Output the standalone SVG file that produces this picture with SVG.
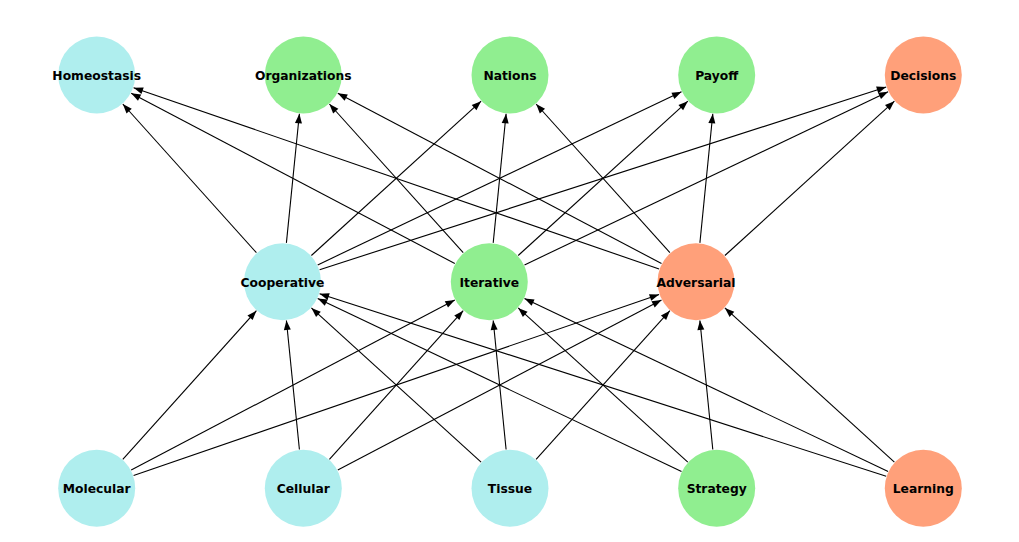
<svg xmlns="http://www.w3.org/2000/svg" width="1019" height="542" viewBox="0 0 1019 542">
<style>
.c{fill:#AFEEEE}.g{fill:#90EE90}.s{fill:#FFA07A}
text{font-family:"DejaVu Sans",sans-serif;font-weight:bold;font-size:12.3px;fill:#000;text-anchor:middle;dominant-baseline:central}
#edges line{stroke:#000;stroke-width:1.1;marker-end:url(#ah)}
</style>
<defs>
<marker id="ah" markerUnits="userSpaceOnUse" markerWidth="12" markerHeight="10" viewBox="-10 -5 11 10" refX="0" refY="0" orient="auto">
<path d="M0,0 L-9.5,-3.5 L-9.5,3.5 z" fill="#000"/>
</marker>
</defs>
<rect width="1019" height="542" fill="#fff"/>
<g id="edges">
<line x1="122.8" y1="459.3" x2="256.4" y2="310.7"/>
<line x1="131.2" y1="470.1" x2="454.8" y2="299.9"/>
<line x1="133.6" y1="475.6" x2="659.1" y2="294.4"/>
<line x1="299.4" y1="449.5" x2="286.4" y2="320.5"/>
<line x1="329.4" y1="459.3" x2="463.2" y2="310.7"/>
<line x1="337.8" y1="470.1" x2="661.5" y2="299.9"/>
<line x1="481.1" y1="462.1" x2="311.4" y2="307.9"/>
<line x1="506.1" y1="449.5" x2="493.2" y2="320.5"/>
<line x1="536.1" y1="459.3" x2="669.9" y2="310.7"/>
<line x1="681.5" y1="471.5" x2="317.7" y2="298.5"/>
<line x1="687.8" y1="462.1" x2="518.2" y2="307.9"/>
<line x1="712.8" y1="449.5" x2="699.9" y2="320.5"/>
<line x1="886.2" y1="476.3" x2="319.6" y2="293.7"/>
<line x1="888.1" y1="471.5" x2="524.5" y2="298.5"/>
<line x1="894.4" y1="462.1" x2="724.9" y2="307.9"/>
<line x1="256.4" y1="252.7" x2="122.8" y2="104.0"/>
<line x1="286.4" y1="242.9" x2="299.4" y2="113.8"/>
<line x1="311.4" y1="255.5" x2="481.1" y2="101.2"/>
<line x1="317.7" y1="264.9" x2="681.5" y2="91.8"/>
<line x1="319.6" y1="269.7" x2="886.2" y2="87.0"/>
<line x1="454.8" y1="263.5" x2="131.2" y2="93.2"/>
<line x1="463.2" y1="252.7" x2="329.4" y2="104.0"/>
<line x1="493.2" y1="242.9" x2="506.1" y2="113.8"/>
<line x1="518.2" y1="255.5" x2="687.8" y2="101.2"/>
<line x1="524.5" y1="264.9" x2="888.1" y2="91.8"/>
<line x1="659.1" y1="269.0" x2="133.6" y2="87.7"/>
<line x1="661.5" y1="263.5" x2="337.8" y2="93.2"/>
<line x1="669.9" y1="252.7" x2="536.1" y2="104.0"/>
<line x1="699.9" y1="242.9" x2="712.8" y2="113.8"/>
<line x1="724.9" y1="255.5" x2="894.4" y2="101.2"/>
</g>
<g id="homeostasis"><circle class="c" cx="96.7" cy="75" r="38.5"/><text x="96.7" y="75.8">Homeostasis</text></g>
<g id="organizations"><circle class="g" cx="303.3" cy="75" r="38.5"/><text x="303.3" y="75.8">Organizations</text></g>
<g id="nations"><circle class="g" cx="510" cy="75" r="38.5"/><text x="510" y="75.8">Nations</text></g>
<g id="payoff"><circle class="g" cx="716.7" cy="75" r="38.5"/><text x="716.7" y="75.8">Payoff</text></g>
<g id="decisions"><circle class="s" cx="923.3" cy="75" r="38.5"/><text x="923.3" y="75.8">Decisions</text></g>
<g id="cooperative"><circle class="c" cx="282.5" cy="281.7" r="38.5"/><text x="282.5" y="282.5">Cooperative</text></g>
<g id="iterative"><circle class="g" cx="489.3" cy="281.7" r="38.5"/><text x="489.3" y="282.5">Iterative</text></g>
<g id="adversarial"><circle class="s" cx="696" cy="281.7" r="38.5"/><text x="696" y="282.5">Adversarial</text></g>
<g id="molecular"><circle class="c" cx="96.7" cy="488.3" r="38.5"/><text x="96.7" y="489.1">Molecular</text></g>
<g id="cellular"><circle class="c" cx="303.3" cy="488.3" r="38.5"/><text x="303.3" y="489.1">Cellular</text></g>
<g id="tissue"><circle class="c" cx="510" cy="488.3" r="38.5"/><text x="510" y="489.1">Tissue</text></g>
<g id="strategy"><circle class="g" cx="716.7" cy="488.3" r="38.5"/><text x="716.7" y="489.1">Strategy</text></g>
<g id="learning"><circle class="s" cx="923.3" cy="488.3" r="38.5"/><text x="923.3" y="489.1">Learning</text></g>
</svg>
